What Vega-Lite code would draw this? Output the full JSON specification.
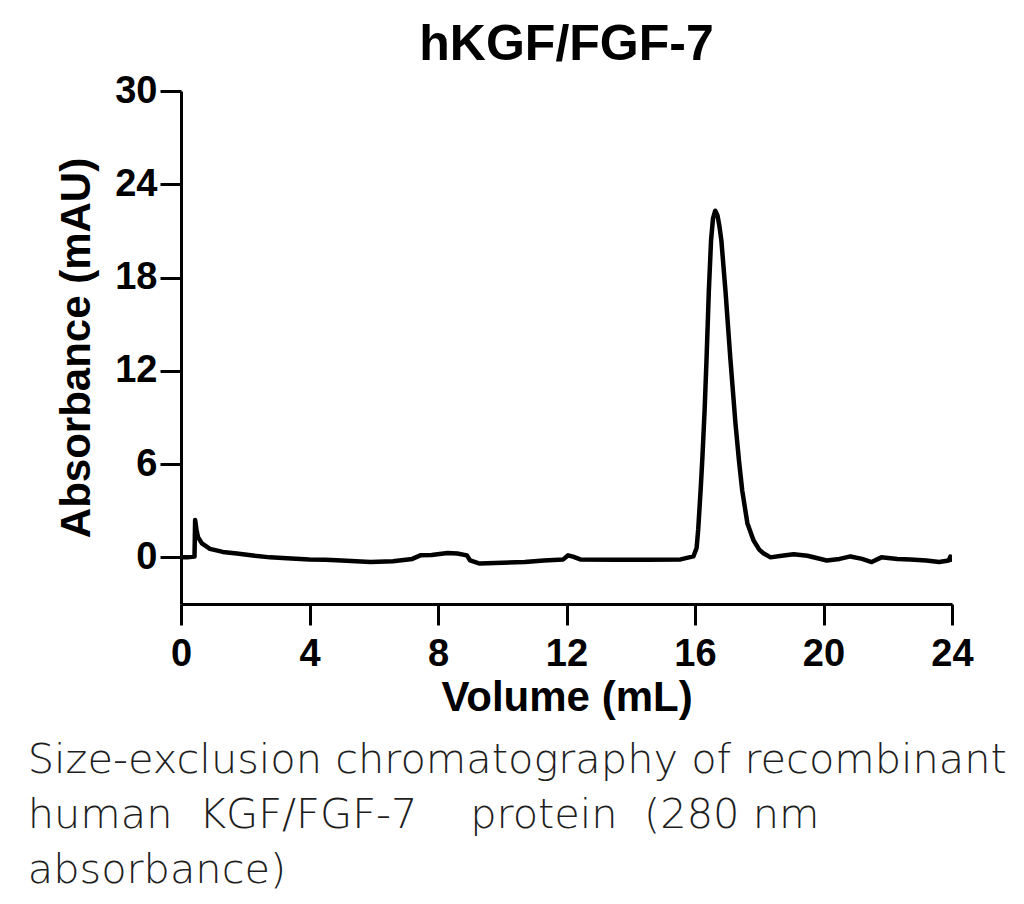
{
  "$schema": "https://vega.github.io/schema/vega-lite/v6.json",
  "padding": {"left": 27, "top": 20, "right": 10, "bottom": 10},
  "background": "white",
  "title": {
    "text": ["Size-exclusion chromatography of recombinant", "human\u00a0 KGF/FGF-7\u00a0\u00a0\u00a0 protein\u00a0 (280 nm", "absorbance)"],
    "orient": "bottom",
    "anchor": "start",
    "frame": "bounds",
    "font": "DejaVu Sans",
    "fontSize": 41.5,
    "fontWeight": 300,
    "color": "#1e1e1e",
    "lineHeight": 55,
    "offset": 22,
    "dx": -28
  },
  "vconcat": [
    {
      "width": 771,
      "height": 513,
      "title": {
        "text": "hKGF/FGF-7",
        "anchor": "middle",
        "frame": "group",
        "font": "Liberation Sans",
        "fontSize": 50,
        "fontWeight": "bold",
        "color": "black",
        "offset": 2
      },
      "data": {
        "values": [
          {"v": 0, "a": 0},
          {"v": 0.2, "a": 0},
          {"v": 0.42, "a": 0.05},
          {"v": 0.44, "a": 2.4},
          {"v": 0.48, "a": 1.8},
          {"v": 0.53, "a": 1.3},
          {"v": 0.65, "a": 0.9},
          {"v": 0.9, "a": 0.55},
          {"v": 1.3, "a": 0.35},
          {"v": 1.74, "a": 0.25},
          {"v": 2.3, "a": 0.1},
          {"v": 2.77, "a": 0.0},
          {"v": 3.3, "a": -0.05},
          {"v": 4.0, "a": -0.13},
          {"v": 4.5, "a": -0.15},
          {"v": 5.0, "a": -0.2},
          {"v": 5.9, "a": -0.3},
          {"v": 6.6, "a": -0.25},
          {"v": 7.2, "a": -0.1},
          {"v": 7.45, "a": 0.13},
          {"v": 7.8, "a": 0.15},
          {"v": 8.3, "a": 0.28},
          {"v": 8.6, "a": 0.25},
          {"v": 8.9, "a": 0.13},
          {"v": 9.0, "a": -0.2},
          {"v": 9.3, "a": -0.4},
          {"v": 10.0, "a": -0.35},
          {"v": 10.7, "a": -0.3},
          {"v": 11.3, "a": -0.2},
          {"v": 11.9, "a": -0.13},
          {"v": 12.05, "a": 0.13},
          {"v": 12.2, "a": 0.05},
          {"v": 12.43, "a": -0.13},
          {"v": 13.5, "a": -0.15},
          {"v": 14.5, "a": -0.15},
          {"v": 15.55, "a": -0.13},
          {"v": 15.95, "a": 0.06},
          {"v": 16.05, "a": 0.6},
          {"v": 16.1, "a": 1.8},
          {"v": 16.18, "a": 4.5},
          {"v": 16.23, "a": 6.4},
          {"v": 16.3, "a": 9.5},
          {"v": 16.36, "a": 12.8},
          {"v": 16.43, "a": 17.1},
          {"v": 16.5, "a": 20.4},
          {"v": 16.56, "a": 21.8},
          {"v": 16.63, "a": 22.3},
          {"v": 16.7, "a": 22.0},
          {"v": 16.76, "a": 21.3},
          {"v": 16.82, "a": 20.4},
          {"v": 16.95, "a": 17.1},
          {"v": 17.1, "a": 12.8},
          {"v": 17.26, "a": 8.6},
          {"v": 17.37, "a": 6.2},
          {"v": 17.47, "a": 4.3},
          {"v": 17.63, "a": 2.2},
          {"v": 17.82, "a": 1.1},
          {"v": 18.0, "a": 0.5},
          {"v": 18.13, "a": 0.26},
          {"v": 18.35, "a": 0.0},
          {"v": 18.7, "a": 0.1},
          {"v": 19.07, "a": 0.2},
          {"v": 19.5, "a": 0.1},
          {"v": 20.1, "a": -0.2},
          {"v": 20.5, "a": -0.1},
          {"v": 20.84, "a": 0.06},
          {"v": 21.2, "a": -0.1},
          {"v": 21.5, "a": -0.3},
          {"v": 21.8, "a": 0.0},
          {"v": 22.3, "a": -0.1},
          {"v": 22.7, "a": -0.13},
          {"v": 23.2, "a": -0.2},
          {"v": 23.6, "a": -0.3},
          {"v": 23.9, "a": -0.2},
          {"v": 23.95, "a": 0.05},
          {"v": 24.0, "a": -0.15}
        ]
      },
      "mark": {"type": "line", "color": "black", "strokeWidth": 4.5, "strokeJoin": "round", "strokeCap": "round", "clip": true},
      "encoding": {
        "x": {
          "field": "v",
          "type": "quantitative",
          "scale": {"domain": [0, 24], "nice": false, "zero": false},
          "axis": {
            "values": [0, 4, 8, 12, 16, 20, 24],
            "title": "Volume (mL)",
            "titlePadding": 4
          }
        },
        "y": {
          "field": "a",
          "type": "quantitative",
          "scale": {"domain": [-3, 30], "nice": false, "zero": false},
          "axis": {
            "values": [0, 6, 12, 18, 24, 30],
            "title": "Absorbance (mAU)",
            "titlePadding": 16,
            "labelPadding": 3
          }
        }
      }
    }
  ],
  "config": {
    "view": {"stroke": null},
    "axis": {
      "grid": false,
      "domainColor": "black",
      "domainWidth": 3,
      "tickColor": "black",
      "tickWidth": 3,
      "tickSize": 21,
      "labelFont": "Liberation Sans",
      "labelFontSize": 38,
      "labelFontWeight": "bold",
      "labelColor": "black",
      "labelPadding": 10,
      "titleFont": "Liberation Sans",
      "titleFontSize": 42,
      "titleFontWeight": "bold",
      "titleColor": "black",
      "labelFlush": false,
      "labelOverlap": false
    }
  }
}
